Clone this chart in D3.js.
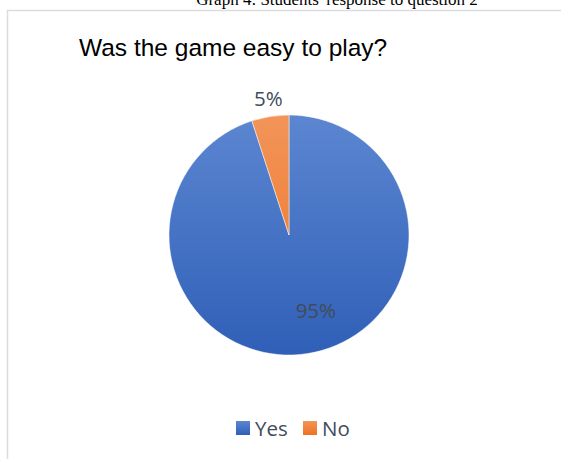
<!DOCTYPE html>
<html>
<head>
<meta charset="utf-8">
<script src="https://cdn.jsdelivr.net/npm/d3@7"></script>
<style>
  html, body { margin: 0; padding: 0; background: #ffffff; }
  svg { display: block; }
</style>
</head>
<body>
<svg id="chart" width="561" height="459"></svg>
<script>
// Survey answers
const categories = ["Yes", "No"];
const values = [95, 5];
const percentLabels = ["95%", "5%"];
const chartTitle = "Was the game easy to play?";
const caption = "Graph 4: Students' response to question 2";

const W = 561, H = 459;
const svg = d3.select("#chart");

// Colour stops per category (top -> bottom of the pie)
const gradStops = {
  Yes: ["#5c86d1", "#2f5fb7"],
  No:  ["#f29459", "#ee7220"]
};

const cx = 289, cy = 235, R = 120;

const defs = svg.append("defs");
categories.forEach(c => {
  // pie gradient, in the pie group's own coordinates
  const g = defs.append("linearGradient")
    .attr("id", "grad-" + c)
    .attr("gradientUnits", "userSpaceOnUse")
    .attr("x1", 0).attr("y1", -R)
    .attr("x2", 0).attr("y2", R);
  g.append("stop").attr("offset", "0%").attr("stop-color", gradStops[c][0]);
  g.append("stop").attr("offset", "100%").attr("stop-color", gradStops[c][1]);
  // legend swatch gradient
  const lg = defs.append("linearGradient")
    .attr("id", "leg-" + c)
    .attr("x1", 0).attr("y1", 0).attr("x2", 0).attr("y2", 1);
  lg.append("stop").attr("offset", "0%").attr("stop-color", gradStops[c][0]);
  lg.append("stop").attr("offset", "100%").attr("stop-color", gradStops[c][1]);
});

// Document caption above the chart frame
svg.append("text")
  .attr("x", 337).attr("y", 5)
  .attr("text-anchor", "middle")
  .attr("font-family", "'Liberation Serif', 'Times New Roman', serif")
  .attr("font-size", 17)
  .attr("fill", "#000")
  .text(caption);

// Chart frame (only top and left edges fall inside the view)
svg.append("path")
  .attr("d", `M7.5,${H + 2} V10.5 H${W + 2}`)
  .attr("fill", "none")
  .attr("stroke", "#d9dde3")
  .attr("stroke-width", 1.5);

// Title
svg.append("text")
  .attr("x", 79).attr("y", 56)
  .attr("font-family", "'Liberation Sans', Arial, sans-serif")
  .attr("font-size", 24.5)
  .attr("fill", "#000")
  .text(chartTitle);

const data = categories.map((c, i) => ({ cat: c, value: values[i], label: percentLabels[i] }));

const pie = d3.pie().sort(null).value(d => d.value);
const arcs = pie(data);
const arc = d3.arc().innerRadius(0).outerRadius(R);

const g = svg.append("g").attr("transform", `translate(${cx},${cy})`);

g.selectAll("path.slice")
  .data(arcs)
  .join("path")
  .attr("class", "slice")
  .attr("d", arc)
  .attr("fill", d => `url(#grad-${d.data.cat})`)
  .attr("stroke", "#ffffff")
  .attr("stroke-width", 0.8)
  .attr("stroke-opacity", 0.6);

// Data labels: large slice inside, small slice outside
const innerLabelArc = d3.arc().innerRadius(R * 0.63).outerRadius(R * 0.63);
const outerLabelArc = d3.arc().innerRadius(R + 19).outerRadius(R + 19);

g.selectAll("text.lbl")
  .data(arcs)
  .join("text")
  .attr("class", "lbl")
  .attr("transform", d => {
    const big = (d.endAngle - d.startAngle) > Math.PI;
    const p = big ? innerLabelArc.centroid(d) : outerLabelArc.centroid(d);
    const dx = big ? 15 : 1;
    return `translate(${p[0] + dx},${p[1]})`;
  })
  .attr("text-anchor", "middle")
  .attr("dominant-baseline", "central")
  .attr("font-family", "'Open Sans', 'Noto Sans', sans-serif")
  .attr("font-size", 20.5)
  .attr("fill", "#414b5a")
  .text(d => d.data.label);

// Legend
const legend = svg.append("g").attr("transform", "translate(236,421)");
const legendX = [0, 67];
const items = legend.selectAll("g.item")
  .data(data)
  .join("g")
  .attr("class", "item")
  .attr("transform", (d, i) => `translate(${legendX[i]},0)`);
items.append("rect")
  .attr("width", 14).attr("height", 14)
  .attr("fill", d => `url(#leg-${d.cat})`);
items.append("text")
  .attr("x", 19).attr("y", 7)
  .attr("dominant-baseline", "central")
  .attr("font-family", "'Open Sans', 'Noto Sans', sans-serif")
  .attr("font-size", 20.5)
  .attr("fill", "#414b5a")
  .text(d => d.cat);
</script>
</body>
</html>
